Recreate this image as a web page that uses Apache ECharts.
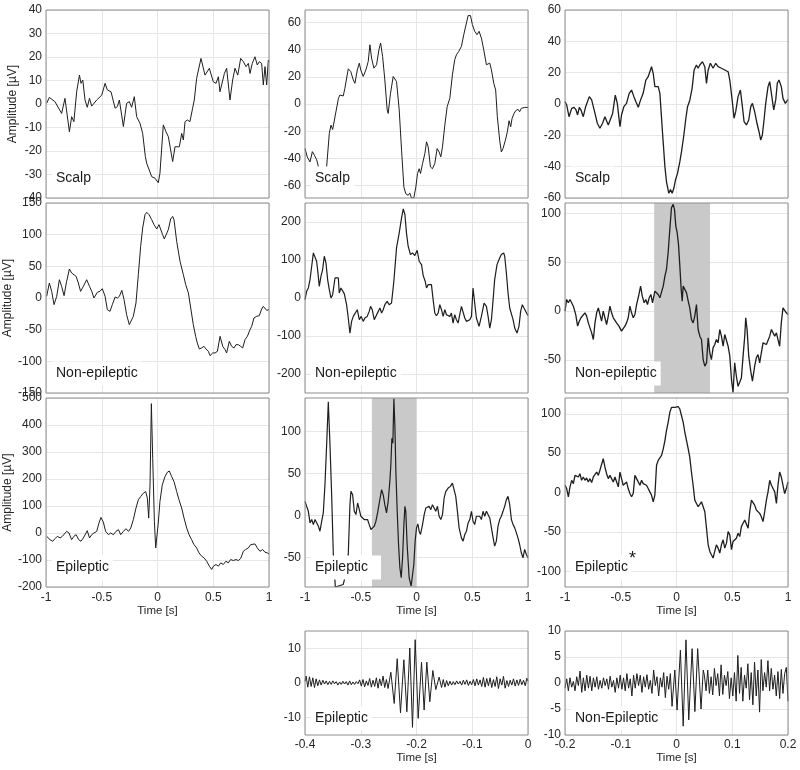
<!DOCTYPE html>
<html><head><meta charset="utf-8">
<script src="https://cdn.jsdelivr.net/npm/echarts@6.0.0/dist/echarts.min.js"></script>
<style>html,body{margin:0;padding:0;background:#fff}#c{width:800px;height:770px}</style>
</head><body><div id="c"></div>
<script>
// ---------------- DATA (time [s], amplitude [µV]) ----------------
const scalpA = [[-0.994,0.3],[-0.97,2.8],[-0.92,1],[-0.86,-4],[-0.83,2.4],[-0.79,-11.8],[-0.77,-5.4],[-0.75,-7.5],[-0.725,5.2],[-0.70,12.3],[-0.686,8.8],[-0.67,10.2],[-0.65,1.7],[-0.63,-1.4],[-0.61,2.4],[-0.59,-0.9],[-0.545,1.7],[-0.50,3.8],[-0.47,8.8],[-0.45,6],[-0.417,5.2],[-0.38,-1.8],[-0.36,-1.1],[-0.342,1.7],[-0.306,-9.6],[-0.277,0.3],[-0.253,1],[-0.232,-1.4],[-0.208,3.1],[-0.187,-5.4],[-0.157,-8.2],[-0.133,-12.5],[-0.109,-22.4],[-0.097,-25.2],[-0.082,-24.5],[-0.052,-30.9],[-0.022,-31.6],[0.007,-33.5],[0.022,-29.5],[0.052,-8.9],[0.076,-11.8],[0.097,-13.9],[0.136,-24.5],[0.157,-18.2],[0.172,-17.4],[0.196,-18.2],[0.217,-12.5],[0.232,-15.3],[0.247,-7.5],[0.268,-6.8],[0.291,-7.5],[0.315,-1.8],[0.33,1.7],[0.351,10.9],[0.39,19.4],[0.426,12.3],[0.465,15.2],[0.50,9.5],[0.525,8.8],[0.546,11.6],[0.56,5.2],[0.575,8.1],[0.60,13],[0.62,15.2],[0.65,1.7],[0.674,10.2],[0.695,15.2],[0.72,12.3],[0.746,19.4],[0.77,18],[0.794,15.9],[0.815,17.3],[0.83,13],[0.85,17.3],[0.874,20.1],[0.895,16.6],[0.913,18],[0.934,17.3],[0.949,8.1],[0.964,15.9],[0.979,8.1],[0.994,18.7],[1.0,18]];

const scalpB = [[-1,-32.7],[-0.98,-38.8],[-0.955,-42.5],[-0.934,-35],[-0.916,-37.6],[-0.895,-41],[-0.88,-46],[-0.86,-60],[-0.83,-58],[-0.806,-46],[-0.782,-21.6],[-0.767,-15.5],[-0.752,-18.7],[-0.70,4.2],[-0.687,6.6],[-0.657,5.9],[-0.642,11.6],[-0.612,25.8],[-0.59,23.9],[-0.567,17.7],[-0.552,15.2],[-0.531,25],[-0.513,30],[-0.5,25],[-0.478,20.2],[-0.454,25],[-0.433,31.2],[-0.418,43.5],[-0.403,33.7],[-0.382,26.3],[-0.358,28.8],[-0.337,39.8],[-0.322,44.8],[-0.304,34.9],[-0.284,17.7],[-0.263,-4.4],[-0.254,-6.9],[-0.233,7.9],[-0.209,20.2],[-0.194,21.4],[-0.179,16.5],[-0.155,-4.4],[-0.134,-33.9],[-0.113,-61],[-0.096,-65.9],[-0.075,-67],[-0.06,-65.4],[-0.045,-69],[-0.024,-69],[-0.006,-61],[0.009,-51],[0.024,-47.5],[0.036,-51],[0.054,-43.8],[0.075,-36.4],[0.09,-27.8],[0.105,-31.5],[0.125,-46.2],[0.143,-47.5],[0.164,-43.8],[0.185,-32.7],[0.203,-35.2],[0.218,-38.8],[0.233,-31.5],[0.254,-15.5],[0.275,-2],[0.299,4.2],[0.322,21.4],[0.343,32.5],[0.358,36.1],[0.379,38.6],[0.403,42.3],[0.424,50.9],[0.448,59.5],[0.463,64.9],[0.484,64.9],[0.501,58.3],[0.522,53.4],[0.543,50.9],[0.561,53.4],[0.582,48.4],[0.603,39.8],[0.627,28.8],[0.642,29.5],[0.657,30],[0.672,25],[0.693,15.2],[0.71,10.3],[0.725,-9.3],[0.746,-26.6],[0.761,-35.2],[0.776,-32.7],[0.797,-26.6],[0.815,-20.4],[0.83,-12.3],[0.845,-16.7],[0.857,-10.6],[0.875,-6.9],[0.89,-4.9],[0.91,-3.9],[0.925,-5.7],[0.94,-3.2],[0.955,-4.4],[0.97,-2.5],[0.985,-1.5],[1.0,-2.5]];

const scalpC = [[-1,1.5],[-0.985,-0.6],[-0.964,-8.1],[-0.94,-2.8],[-0.919,-2.1],[-0.901,-3.8],[-0.887,-7],[-0.872,-2.1],[-0.857,-3.8],[-0.836,-8.1],[-0.815,-1.7],[-0.782,4.7],[-0.761,2.6],[-0.731,-6],[-0.71,-12.3],[-0.687,-15.5],[-0.663,-12.3],[-0.642,-8.1],[-0.627,-7.7],[-0.612,-13.4],[-0.597,-14.5],[-0.573,-6],[-0.549,5.7],[-0.531,0.4],[-0.507,-14.5],[-0.493,-7],[-0.472,-1.7],[-0.448,0.4],[-0.424,6.8],[-0.403,8.9],[-0.382,4.7],[-0.364,1.5],[-0.343,-2.1],[-0.322,2.6],[-0.299,6.8],[-0.275,15.3],[-0.254,17.4],[-0.239,20.6],[-0.224,23.8],[-0.209,19.6],[-0.194,11.1],[-0.179,10],[-0.164,11.1],[-0.149,6.8],[-0.125,-18.7],[-0.104,-40],[-0.09,-49.6],[-0.069,-57],[-0.054,-54.5],[-0.039,-57],[-0.024,-53.8],[-0.009,-48.5],[0.009,-44.3],[0.03,-36.8],[0.045,-30.4],[0.066,-19.8],[0.084,-9.1],[0.099,-1.7],[0.12,2.6],[0.14,10],[0.158,21.7],[0.179,24.9],[0.194,22.8],[0.209,24.9],[0.233,27],[0.254,23.8],[0.269,13.2],[0.284,21.7],[0.304,26],[0.328,22.8],[0.352,26],[0.373,23.8],[0.403,22.8],[0.433,21.7],[0.463,20.6],[0.478,15.3],[0.499,2.6],[0.516,-9.1],[0.531,-4.9],[0.552,4.7],[0.573,8.9],[0.591,-1.7],[0.606,-11.3],[0.627,-13.4],[0.648,-10.2],[0.666,-1.7],[0.681,0.4],[0.701,-4.9],[0.722,-12.3],[0.74,-17.7],[0.755,-23],[0.77,-19.8],[0.785,-10.2],[0.8,0.4],[0.821,11.1],[0.836,14.3],[0.851,6.8],[0.872,-3.8],[0.89,2.6],[0.904,13.2],[0.919,15.3],[0.94,11.1],[0.955,3.6],[0.976,0.4],[1.0,3]];

const nonEpA = [[-0.994,2.6],[-0.97,23.7],[-0.949,10.5],[-0.928,-10.5],[-0.904,2.6],[-0.88,28.9],[-0.86,18.4],[-0.838,3.7],[-0.815,26.3],[-0.79,45.8],[-0.77,39.5],[-0.755,42.1],[-0.73,34.2],[-0.71,23.7],[-0.69,10.5],[-0.665,18.4],[-0.635,28.9],[-0.61,18.4],[-0.59,10.5],[-0.57,0],[-0.54,8.9],[-0.516,10.5],[-0.495,14.7],[-0.47,2.6],[-0.45,-18.4],[-0.426,-21],[-0.405,-10.5],[-0.38,1.6],[-0.36,0],[-0.342,2.6],[-0.32,12.1],[-0.30,-2.6],[-0.277,-26.3],[-0.253,-42.1],[-0.238,-42.1],[-0.217,-29],[-0.193,-7.9],[-0.172,36.8],[-0.151,81.6],[-0.133,110.5],[-0.112,131.6],[-0.097,135.3],[-0.076,131.6],[-0.052,123.7],[-0.031,115.8],[-0.007,109],[0.013,115.8],[0.028,118.4],[0.046,100],[0.061,93.2],[0.076,93.2],[0.097,107.9],[0.118,124.7],[0.136,128.9],[0.148,123.7],[0.172,89.5],[0.202,57.9],[0.232,36.8],[0.253,21.1],[0.277,7.9],[0.298,-15.8],[0.321,-42.1],[0.342,-60.5],[0.357,-71.1],[0.375,-80.5],[0.396,-78.9],[0.417,-76.3],[0.435,-80.5],[0.456,-84.2],[0.471,-91],[0.495,-86.8],[0.516,-86.8],[0.537,-84.2],[0.561,-60.5],[0.585,-76.3],[0.606,-81.6],[0.62,-86.8],[0.644,-68.4],[0.665,-76.3],[0.686,-78.9],[0.704,-73.7],[0.725,-73.7],[0.746,-76.3],[0.764,-78.9],[0.785,-65.8],[0.806,-60.5],[0.83,-50],[0.845,-44.7],[0.865,-31.6],[0.89,-28.9],[0.913,-27.9],[0.934,-17.4],[0.949,-13.2],[0.964,-15.8],[0.979,-19.5],[1.0,-18.4]];

const nonEpB = [[-1,-4.4],[-0.985,17.6],[-0.97,26.4],[-0.955,48.4],[-0.94,83.5],[-0.925,118.7],[-0.91,123],[-0.896,96.7],[-0.887,74.7],[-0.872,30.8],[-0.857,57.1],[-0.842,74.7],[-0.827,109.9],[-0.812,92.3],[-0.797,48.4],[-0.782,22],[-0.767,0],[-0.752,8.8],[-0.731,52.7],[-0.716,48.4],[-0.701,52.7],[-0.693,13.2],[-0.678,26.4],[-0.663,22],[-0.648,11.4],[-0.627,-17.6],[-0.612,-52.7],[-0.597,-92.3],[-0.582,-61.5],[-0.567,-48.4],[-0.552,-52.7],[-0.531,-30.8],[-0.513,-57.1],[-0.496,-48.4],[-0.478,-61.5],[-0.463,-52.7],[-0.442,-48.4],[-0.424,-35.2],[-0.412,-22],[-0.397,-30.8],[-0.379,-57.1],[-0.364,-61.5],[-0.343,-35.2],[-0.328,-26.4],[-0.313,-39.6],[-0.299,-30.8],[-0.284,-17.6],[-0.263,-8.8],[-0.245,-17.6],[-0.224,-13.2],[-0.203,44],[-0.179,131.9],[-0.155,171.4],[-0.134,211],[-0.119,234.7],[-0.104,219.8],[-0.09,171.4],[-0.075,136.3],[-0.054,114.3],[-0.036,118.7],[-0.015,111.6],[0.006,125.7],[0.024,96.7],[0.045,87.9],[0.06,58.9],[0.078,44],[0.09,26.4],[0.105,35.2],[0.12,39.6],[0.134,35.2],[0.149,-4.4],[0.164,-39.6],[0.179,-46.6],[0.194,-39.6],[0.209,-17.6],[0.224,-30.8],[0.239,-48.4],[0.254,-30.8],[0.269,-44],[0.284,-39.6],[0.299,-48.4],[0.313,-39.6],[0.328,-65.9],[0.343,-44],[0.358,-57.1],[0.373,-65.9],[0.388,-44],[0.403,-22],[0.418,-17.6],[0.433,-52.7],[0.448,-61.5],[0.463,-65.9],[0.478,-57.1],[0.493,-48.4],[0.507,26.4],[0.522,-13.2],[0.537,-52.7],[0.561,-74.7],[0.582,-48.4],[0.606,-13.2],[0.627,-22],[0.642,-48.4],[0.657,-79.1],[0.672,-57.1],[0.687,-4.4],[0.701,48.4],[0.722,87.9],[0.746,105.5],[0.761,114.3],[0.782,118.7],[0.791,109.9],[0.806,65.9],[0.821,13.2],[0.836,-26.4],[0.851,-30.8],[0.866,-57.1],[0.881,-79.1],[0.901,-92.3],[0.919,-74.7],[0.934,-35.2],[0.949,-17.6],[0.964,-26.4],[0.979,-30.8],[1.0,-46.6]];

const nonEpC = [[-1,0],[-0.985,12],[-0.97,8.6],[-0.955,12],[-0.94,10.3],[-0.925,5.1],[-0.904,-3.4],[-0.887,-15.4],[-0.872,-10.3],[-0.857,-6.8],[-0.842,-8.6],[-0.821,-1.7],[-0.806,-5.1],[-0.791,-12],[-0.776,-12],[-0.761,-22.3],[-0.746,-29.1],[-0.731,-12],[-0.716,-1.7],[-0.701,3.4],[-0.687,1.7],[-0.672,-10.3],[-0.657,0],[-0.642,-6.8],[-0.627,-13.7],[-0.612,-5.1],[-0.597,5.1],[-0.582,-1.7],[-0.567,-6.8],[-0.552,-8.6],[-0.537,-12],[-0.516,-15.4],[-0.493,-20.5],[-0.478,-20.5],[-0.463,-15.4],[-0.448,-12],[-0.433,-6.8],[-0.418,5.1],[-0.403,-1.7],[-0.388,-6.8],[-0.373,-3.4],[-0.358,6.8],[-0.337,17.1],[-0.322,25.7],[-0.307,15.4],[-0.29,8.6],[-0.275,12],[-0.26,6.8],[-0.245,13.7],[-0.23,17.1],[-0.215,8.6],[-0.194,20.5],[-0.179,22.3],[-0.164,17.1],[-0.149,13.7],[-0.134,15.4],[-0.119,25.7],[-0.104,36],[-0.09,42.8],[-0.075,59.9],[-0.06,83.9],[-0.045,106.2],[-0.03,109.6],[-0.018,104.5],[-0.006,87.3],[0.006,80.5],[0.018,68.5],[0.03,46.2],[0.042,22.3],[0.051,10.3],[0.06,25.7],[0.075,25.7],[0.09,18.8],[0.105,10.3],[0.119,3.4],[0.134,-8.6],[0.149,-12],[0.164,-5.1],[0.179,6.8],[0.194,-18.8],[0.209,-25.7],[0.224,-29.1],[0.239,-49.7],[0.254,-56.5],[0.269,-53.1],[0.284,-27.4],[0.299,-42.8],[0.313,-49.7],[0.328,-37.7],[0.343,-34.2],[0.358,-29.1],[0.373,-32.5],[0.388,-18.8],[0.403,-25.7],[0.418,-36],[0.433,-24],[0.448,-25.7],[0.463,-36],[0.478,-46.2],[0.493,-70.2],[0.507,-83.5],[0.522,-53.1],[0.537,-66.8],[0.552,-77.1],[0.567,-78.8],[0.582,-68.5],[0.597,-46.2],[0.612,-25.7],[0.621,-6.8],[0.633,-18.8],[0.648,-46.2],[0.666,-61.6],[0.681,-71.9],[0.701,-56.5],[0.716,-47.9],[0.731,-44.5],[0.746,-53.1],[0.761,-42.8],[0.776,-32.5],[0.791,-30.8],[0.806,-34.2],[0.821,-32.5],[0.836,-25.7],[0.851,-18.8],[0.866,-22.3],[0.881,-25.7],[0.896,-22.3],[0.91,-29.1],[0.925,-36],[0.94,-12],[0.955,3.4],[0.97,1.7],[0.985,-1.7],[1.0,-3.4]];

const epA = [[-0.994,-12.3],[-0.979,-6.1],[-0.964,-24.6],[-0.94,-30.7],[-0.919,-20.9],[-0.898,-12.3],[-0.874,-18.4],[-0.853,-12.3],[-0.836,-16],[-0.815,6.1],[-0.794,0],[-0.77,-24.6],[-0.75,-12.3],[-0.73,-6.1],[-0.707,-24.6],[-0.686,-30.7],[-0.665,-18.4],[-0.65,-12.3],[-0.63,8.6],[-0.61,-18.4],[-0.59,-6.1],[-0.57,0],[-0.545,6.1],[-0.525,36.9],[-0.507,57.7],[-0.486,40.5],[-0.465,6.1],[-0.44,-6.1],[-0.42,0],[-0.396,-6.1],[-0.372,6.1],[-0.35,12.3],[-0.33,-6.1],[-0.306,6.1],[-0.283,16],[-0.26,6.1],[-0.24,18.4],[-0.217,49.1],[-0.193,92.1],[-0.172,122.9],[-0.151,135.1],[-0.127,147.4],[-0.106,153.6],[-0.091,129],[-0.079,55.3],[-0.067,178.1],[-0.055,479.1],[-0.043,276.4],[-0.028,43],[-0.016,-55.3],[-0.007,-18.4],[0.007,36.9],[0.022,116.7],[0.043,178.1],[0.067,208.8],[0.088,224.8],[0.106,229.7],[0.127,208.8],[0.148,190.4],[0.172,153.6],[0.193,122.9],[0.217,92.1],[0.238,55.3],[0.262,18.4],[0.283,-6.1],[0.306,-24.6],[0.327,-43],[0.351,-55.3],[0.372,-73.7],[0.396,-86],[0.417,-92.1],[0.441,-104.4],[0.465,-122.9],[0.486,-135.1],[0.501,-122.9],[0.525,-116.7],[0.546,-122.9],[0.567,-110.6],[0.59,-116.7],[0.614,-104.4],[0.635,-110.6],[0.656,-98.3],[0.68,-102],[0.704,-98.3],[0.725,-102],[0.746,-94.6],[0.77,-67.6],[0.79,-61.4],[0.815,-55.3],[0.836,-43],[0.853,-49.1],[0.874,-40.5],[0.895,-55.3],[0.919,-67.6],[0.943,-61.4],[0.964,-71.3],[0.985,-73.7],[1.0,-77.4]];

const epB = [[-1,17],[-0.985,11],[-0.97,5.1],[-0.955,-8.7],[-0.94,-4.7],[-0.925,-10.7],[-0.91,-4.7],[-0.896,-6.7],[-0.88,-12.6],[-0.866,-18.6],[-0.85,-6.7],[-0.836,3.2],[-0.821,36.8],[-0.806,84.2],[-0.791,135.6],[-0.776,84.2],[-0.761,24.9],[-0.746,-46.2],[-0.728,-85],[-0.716,-85],[-0.657,-82],[-0.627,-66],[-0.612,-46.2],[-0.597,13],[-0.588,28.9],[-0.573,24.9],[-0.558,5.1],[-0.543,1.2],[-0.528,15],[-0.513,7.1],[-0.499,-0.8],[-0.484,1.2],[-0.469,-4.7],[-0.454,-2.8],[-0.439,-4.7],[-0.424,-10.7],[-0.409,-16.6],[-0.394,-18.6],[-0.379,-12.6],[-0.364,-6.7],[-0.349,3.2],[-0.334,15],[-0.313,30.8],[-0.299,24.9],[-0.284,13],[-0.269,3.2],[-0.254,17],[-0.239,40.7],[-0.23,60.5],[-0.221,92.1],[-0.212,86.2],[-0.203,139.5],[-0.194,107.9],[-0.185,52.6],[-0.173,5.1],[-0.161,-34.4],[-0.149,-62.1],[-0.137,-73.9],[-0.125,-50.2],[-0.113,-10.7],[-0.104,11.1],[-0.096,5.1],[-0.084,-34.4],[-0.066,-73.9],[-0.048,-83.8],[-0.036,-81.8],[-0.024,-58.1],[-0.012,-30.4],[0,-14.6],[0.012,-9.9],[0.024,-18.6],[0.036,-22.5],[0.054,-10.7],[0.069,1.2],[0.084,9.1],[0.099,7.1],[0.113,11.1],[0.128,7.1],[0.143,13],[0.158,9.1],[0.173,5.1],[0.188,11.1],[0.203,-0.8],[0.218,-4.7],[0.233,1.2],[0.248,21],[0.263,28.9],[0.284,32.8],[0.304,34.8],[0.322,38.7],[0.337,36.8],[0.352,22.9],[0.367,5.1],[0.382,-14.6],[0.403,-26.5],[0.418,-30.4],[0.433,-22.5],[0.448,-18.6],[0.463,-8.7],[0.478,-4.7],[0.493,5.1],[0.507,-6.7],[0.522,-10.7],[0.537,-0.8],[0.552,-2.8],[0.567,-0.8],[0.582,-4.7],[0.597,5.1],[0.612,-0.8],[0.627,5.1],[0.642,3.2],[0.657,-2.8],[0.672,-14.6],[0.687,-26.5],[0.701,-36.4],[0.716,-30.4],[0.731,-12.6],[0.746,-4.7],[0.761,-0.8],[0.776,5.1],[0.791,11.1],[0.806,19],[0.821,22.9],[0.836,13],[0.851,-4.7],[0.866,-10.7],[0.881,-14.6],[0.896,-20.6],[0.91,-26.5],[0.925,-34.4],[0.94,-44.3],[0.955,-50.2],[0.97,-40.3],[0.985,-46.2],[1.0,-50.2]];

const epC = [[-1,9.2],[-0.985,5],[-0.97,-5.5],[-0.955,7.1],[-0.94,15.5],[-0.925,11.3],[-0.91,21.8],[-0.896,23.9],[-0.88,19.7],[-0.866,23.9],[-0.851,15.5],[-0.836,19.7],[-0.821,15.5],[-0.806,18.5],[-0.791,13.4],[-0.776,17.6],[-0.761,12.6],[-0.746,19.7],[-0.731,17.6],[-0.716,26],[-0.701,21.8],[-0.687,28.2],[-0.672,30.3],[-0.657,42.9],[-0.642,32.4],[-0.627,23.9],[-0.612,17.6],[-0.597,21.8],[-0.582,19.7],[-0.567,13.4],[-0.552,19.7],[-0.537,13.4],[-0.522,7.1],[-0.507,26],[-0.493,17.6],[-0.478,9.2],[-0.463,11.3],[-0.448,13.4],[-0.433,5],[-0.418,-1.3],[-0.403,-5.5],[-0.388,-1.3],[-0.373,21.8],[-0.358,17.6],[-0.343,19.7],[-0.328,9.2],[-0.313,15.5],[-0.299,11.3],[-0.284,9.2],[-0.269,9.2],[-0.254,5],[-0.239,0.8],[-0.224,-3.4],[-0.209,-11.8],[-0.194,-3.4],[-0.179,34.5],[-0.164,40.8],[-0.149,38.7],[-0.134,47.1],[-0.119,55.5],[-0.104,66],[-0.09,78.6],[-0.075,89.1],[-0.06,101.7],[-0.045,108],[-0.03,110.1],[-0.015,108],[0,108],[0.015,109.2],[0.03,105.9],[0.045,97.5],[0.06,89.1],[0.075,76.5],[0.09,66],[0.105,55.5],[0.119,45],[0.134,26],[0.149,9.2],[0.164,-9.7],[0.179,-13.9],[0.194,-18.1],[0.209,-16],[0.224,-11.8],[0.239,-13.9],[0.254,-24.4],[0.269,-45.4],[0.284,-66.4],[0.299,-74.8],[0.313,-79],[0.328,-83.2],[0.343,-74.8],[0.358,-66.4],[0.373,-70.6],[0.388,-76.9],[0.403,-66.4],[0.418,-60.1],[0.433,-70.6],[0.448,-64.3],[0.463,-49.6],[0.478,-53.8],[0.493,-72.7],[0.507,-62.2],[0.522,-60.1],[0.537,-58],[0.552,-51.7],[0.567,-55.9],[0.582,-43.3],[0.597,-39.1],[0.612,-34.9],[0.627,-37],[0.642,-45.4],[0.657,-24.4],[0.672,-9.7],[0.687,-7.6],[0.701,-16],[0.716,-22.3],[0.731,-22.3],[0.746,-26.5],[0.761,-30.7],[0.776,-37],[0.791,-24.4],[0.806,-9.7],[0.821,0.8],[0.836,15.5],[0.851,9.2],[0.866,5],[0.881,0.8],[0.896,-13.9],[0.91,9.2],[0.925,26],[0.94,19.7],[0.955,9.2],[0.97,-1.3],[0.985,5],[1.0,13.4]];

const epBand = [[-0.4,0.5],[-0.398,2.0],[-0.395,-1.2],[-0.392,1.8],[-0.389,-1.0],[-0.386,1.5],[-0.383,-1.3],[-0.38,1.2],[-0.377,-0.8],[-0.374,0.9],[-0.371,-0.6],[-0.368,0.8],[-0.365,-0.3],[-0.362,0.6],[-0.359,-0.5],[-0.356,0.5],[-0.353,-0.4],[-0.35,0.6],[-0.347,-0.2],[-0.344,0.4],[-0.341,-0.6],[-0.338,0.3],[-0.335,-0.4],[-0.332,0.5],[-0.329,-0.3],[-0.326,0.4],[-0.323,-0.6],[-0.32,0.6],[-0.317,-0.5],[-0.314,0.3],[-0.311,-0.4],[-0.308,0.4],[-0.305,-0.2],[-0.302,0.9],[-0.299,-0.9],[-0.296,1.0],[-0.293,-1.1],[-0.29,0.6],[-0.287,-0.7],[-0.284,1.3],[-0.281,-1.2],[-0.278,0.8],[-0.275,-1.0],[-0.272,1.5],[-0.269,-1.5],[-0.266,1.2],[-0.263,-0.8],[-0.26,2.0],[-0.257,-1.3],[-0.254,1.0],[-0.251,-1.6],[-0.246,3.1],[-0.24,-5.9],[-0.2346,7.0],[-0.2287,-8.6],[-0.2227,6.7],[-0.2173,-8.3],[-0.212,10.1],[-0.2072,-12.8],[-0.2024,12.5],[-0.197,-10.2],[-0.191,6.0],[-0.1863,-7.8],[-0.1815,6.0],[-0.1761,-5.4],[-0.1707,3.6],[-0.1654,-1.9],[-0.1594,1.7],[-0.155,-1.3],[-0.152,1.0],[-0.149,-1.2],[-0.146,0.7],[-0.143,-0.8],[-0.14,0.5],[-0.137,-0.6],[-0.134,0.4],[-0.131,-0.5],[-0.128,0.6],[-0.125,-0.3],[-0.122,0.5],[-0.119,-0.6],[-0.116,0.8],[-0.113,-0.4],[-0.11,0.9],[-0.107,-0.7],[-0.104,0.5],[-0.101,-0.5],[-0.098,1.0],[-0.095,-0.8],[-0.092,1.2],[-0.089,-0.6],[-0.086,0.9],[-0.083,-1.0],[-0.08,1.6],[-0.077,-1.2],[-0.074,1.3],[-0.071,-0.8],[-0.068,1.5],[-0.065,-1.3],[-0.062,1.0],[-0.059,-1.0],[-0.056,1.8],[-0.053,-1.6],[-0.05,1.2],[-0.047,-0.6],[-0.044,1.9],[-0.041,-1.5],[-0.038,0.7],[-0.035,-1.0],[-0.032,0.8],[-0.029,-0.6],[-0.026,1.2],[-0.023,-0.9],[-0.02,0.9],[-0.017,-0.7],[-0.014,1.1],[-0.011,-0.5],[-0.008,0.8],[-0.005,-0.8],[-0.002,1.4],[0,0.5]];

const nonEpBand = [[-0.2,-1.0],[-0.197,0.8],[-0.194,-1.5],[-0.191,1.0],[-0.188,-0.8],[-0.185,0.3],[-0.182,-1.5],[-0.179,1.2],[-0.176,-0.5],[-0.173,2.3],[-0.17,-1.8],[-0.167,1.0],[-0.164,-1.5],[-0.161,1.5],[-0.158,-1.0],[-0.155,1.3],[-0.152,-1.5],[-0.149,1.0],[-0.146,-0.8],[-0.143,1.2],[-0.14,-1.2],[-0.137,0.5],[-0.134,-1.0],[-0.131,1.0],[-0.128,-0.5],[-0.125,0.8],[-0.122,-1.2],[-0.119,1.3],[-0.116,-0.8],[-0.113,0.5],[-0.11,-1.8],[-0.107,1.0],[-0.104,-1.0],[-0.101,1.5],[-0.098,-1.2],[-0.095,1.0],[-0.092,-1.5],[-0.089,1.8],[-0.086,-1.0],[-0.083,0.8],[-0.08,-2.5],[-0.077,1.5],[-0.074,-1.0],[-0.071,1.8],[-0.068,-0.5],[-0.065,1.5],[-0.062,-1.8],[-0.059,1.2],[-0.056,-0.8],[-0.053,1.6],[-0.05,-1.2],[-0.047,0.5],[-0.044,-2.0],[-0.041,2.5],[-0.038,-0.5],[-0.035,1.2],[-0.032,-2.5],[-0.029,1.0],[-0.026,-0.8],[-0.023,2.0],[-0.02,-2.8],[-0.017,1.3],[-0.014,-1.2],[-0.011,1.8],[-0.008,-4.5],[-0.003,2.5],[0.001,-5.2],[0.007,6.3],[0.012,-8.3],[0.017,8.3],[0.022,-7.1],[0.028,6.6],[0.033,-5.5],[0.038,6.6],[0.044,-5.0],[0.048,2.5],[0.05,1.5],[0.053,-1.5],[0.056,2.5],[0.059,-2.0],[0.062,1.2],[0.065,-2.3],[0.068,2.8],[0.071,-0.5],[0.074,1.8],[0.077,-2.5],[0.08,3.5],[0.083,-2.2],[0.086,1.5],[0.089,-0.5],[0.092,2.2],[0.095,-3.0],[0.098,1.0],[0.101,-2.5],[0.104,2.0],[0.107,-3.5],[0.11,5.3],[0.113,-2.0],[0.116,3.0],[0.119,-3.5],[0.122,1.5],[0.125,-1.0],[0.128,3.7],[0.131,-3.2],[0.134,2.0],[0.137,-4.2],[0.14,4.0],[0.143,-2.5],[0.146,2.5],[0.149,-5.6],[0.152,4.5],[0.155,-1.5],[0.158,2.0],[0.161,-0.8],[0.164,4.3],[0.167,-1.5],[0.17,2.8],[0.173,-1.2],[0.176,1.5],[0.179,-2.5],[0.182,2.2],[0.185,-3.0],[0.188,2.6],[0.191,-2.0],[0.194,1.8],[0.197,3.0],[0.2,-3.5]];

// shaded intervals [start, end] in s
const shadeNonEpC = [-0.2, 0.3];
const shadeEpB = [-0.4, 0];

// tick labels
const xTicksMain = [-1, -0.5, 0, 0.5, 1];
const xTicksEpBand = [-0.4, -0.3, -0.2, -0.1, 0];
const xTicksNonEpBand = [-0.2, -0.1, 0, 0.1, 0.2];
const yTicksScalpA = [-40, -30, -20, -10, 0, 10, 20, 30, 40];
const yTicksScalpB = [-60, -40, -20, 0, 20, 40, 60];
const yTicksScalpC = [-60, -40, -20, 0, 20, 40, 60];
const yTicksNonEpA = [-150, -100, -50, 0, 50, 100, 150];
const yTicksNonEpB = [-200, -100, 0, 100, 200];
const yTicksNonEpC = [-50, 0, 50, 100];
const yTicksEpA = [-200, -100, 0, 100, 200, 300, 400, 500];
const yTicksEpB = [-50, 0, 50, 100];
const yTicksEpC = [-100, -50, 0, 50, 100];
const yTicksEpBand = [-10, 0, 10];
const yTicksNonEpBand = [-10, -5, 0, 5, 10];

// ---------------- LAYOUT ----------------
const FONT = '"Liberation Sans", Arial, Helvetica, sans-serif';
const colLeft = [46, 305, 565], colW = 223;
const rowTop = [10, 203, 398, 631], rowH = [188, 190, 189, 104];

const panels = [
  {r:0,c:0,data:scalpA,y:[-40,40],yt:yTicksScalpA,x:[-1,1],xt:xTicksMain,label:'Scalp'},
  {r:0,c:1,data:scalpB,y:[-69,69],yt:yTicksScalpB,x:[-1,1],xt:xTicksMain,label:'Scalp'},
  {r:0,c:2,data:scalpC,y:[-60,60],yt:yTicksScalpC,x:[-1,1],xt:xTicksMain,label:'Scalp',lw:1.3},
  {r:1,c:0,data:nonEpA,y:[-150,150],yt:yTicksNonEpA,x:[-1,1],xt:xTicksMain,label:'Non-epileptic'},
  {r:1,c:1,data:nonEpB,y:[-250,250],yt:yTicksNonEpB,x:[-1,1],xt:xTicksMain,label:'Non-epileptic',lw:1.2},
  {r:1,c:2,data:nonEpC,y:[-84,111],yt:yTicksNonEpC,x:[-1,1],xt:xTicksMain,label:'Non-epileptic',shade:shadeNonEpC,lw:1.3},
  {r:2,c:0,data:epA,y:[-200,500],yt:yTicksEpA,x:[-1,1],xt:xTicksMain,label:'Epileptic'},
  {r:2,c:1,data:epB,y:[-85,140],yt:yTicksEpB,x:[-1,1],xt:xTicksMain,label:'Epileptic',shade:shadeEpB,boxW:70,lw:1.2},
  {r:2,c:2,data:epC,y:[-120,120],yt:yTicksEpC,x:[-1,1],xt:xTicksMain,label:'Epileptic',star:true,lw:1.3},
  {r:3,c:1,data:epBand,y:[-15,15],yt:yTicksEpBand,x:[-0.4,0],xt:xTicksEpBand,label:'Epileptic'},
  {r:3,c:2,data:nonEpBand,y:[-10,10],yt:yTicksNonEpBand,x:[-0.2,0.2],xt:xTicksNonEpBand,label:'Non-Epileptic'}
];

const measure = (function(){
  const ctx = document.createElement('canvas').getContext('2d');
  return function(t, f){ ctx.font = f; return ctx.measureText(t).width; };
})();

const grids = [], xAxes = [], yAxes = [], series = [], graphics = [];
panels.forEach((p, i) => {
  const left = colLeft[p.c], top = rowTop[p.r], h = rowH[p.r];
  grids.push({left: left, top: top, width: colW, height: h, show: true,
    borderColor: '#8e8e8e', borderWidth: 1, backgroundColor: 'rgba(0,0,0,0)', z: 5});
  const showX = p.r >= 2;
  xAxes.push({type: 'value', gridIndex: i, min: p.x[0], max: p.x[1],
    axisLine: {show: false}, axisTick: {show: false, customValues: p.xt},
    axisLabel: {show: showX, customValues: p.xt, margin: p.r === 3 ? 4 : 5, fontSize: 12, color: '#262626', fontFamily: FONT},
    splitLine: {show: true, lineStyle: {color: '#e6e6e6', width: 1}},
    name: showX ? 'Time [s]' : '', nameLocation: 'middle', nameGap: p.r === 3 ? 16 : 18,
    nameTextStyle: {fontSize: 11.5, color: '#262626', fontFamily: FONT, verticalAlign: 'top'}});
  yAxes.push({type: 'value', gridIndex: i, min: p.y[0], max: p.y[1],
    axisLine: {show: false}, axisTick: {show: false, customValues: p.yt},
    axisLabel: {customValues: p.yt, margin: 4, fontSize: 12, color: '#262626', fontFamily: FONT},
    splitLine: {show: true, lineStyle: {color: '#e6e6e6', width: 1}},
    name: p.c === 0 ? 'Amplitude [µV]' : '', nameLocation: 'middle', nameGap: 27, nameRotate: 90,
    nameTextStyle: {fontSize: 12, color: '#262626', fontFamily: FONT}});
  if (p.shade) {
    series.push({type: 'line', xAxisIndex: i, yAxisIndex: i, data: [], z: 1, silent: true,
      markArea: {silent: true, itemStyle: {color: '#c9c9c9'},
        data: [[{xAxis: p.shade[0]}, {xAxis: p.shade[1]}]]}});
  }
  series.push({type: 'line', xAxisIndex: i, yAxisIndex: i, data: p.data, symbol: 'none',
    showSymbol: false, z: 3, lineStyle: {color: '#1e1e1e', width: p.lw || 1}, clip: true});

  // label with white box
  const lf = '14px ' + FONT;
  const tw = measure(p.label, lf);
  const cy = top + h - (p.r === 3 ? 17 : 19.5);
  const tx = left + 10;
  const bw = p.boxW || (tw + 8);
  graphics.push({type: 'rect', z: 100, silent: true,
    shape: {x: tx - 4, y: cy - 12, width: bw, height: 24},
    style: {fill: '#ffffff'}});
  graphics.push({type: 'text', z: 101, silent: true, x: tx, y: cy,
    style: {text: p.label, font: lf, fill: '#1a1a1a', verticalAlign: 'middle'}});
  if (p.star) {
    graphics.push({type: 'text', z: 101, silent: true, x: tx + tw + 1, y: cy - 8,
      style: {text: '*', font: '18px ' + FONT, fill: '#1a1a1a', verticalAlign: 'middle'}});
  }
});

const chart = echarts.init(document.getElementById('c'), null, {renderer: 'canvas'});
chart.setOption({
  animation: false,
  backgroundColor: '#ffffff',
  grid: grids, xAxis: xAxes, yAxis: yAxes, series: series, graphic: graphics
});
</script></body></html>
